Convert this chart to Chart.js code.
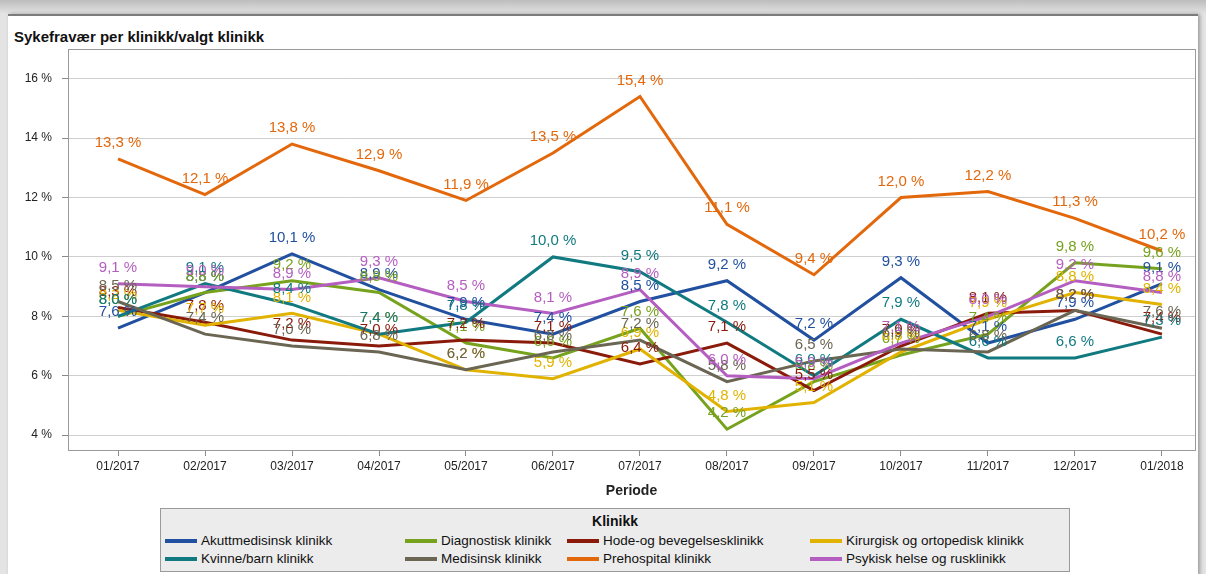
<!DOCTYPE html>
<html>
<head>
<meta charset="utf-8">
<script src="https://cdn.jsdelivr.net/npm/chart.js@4.4.1/dist/chart.umd.min.js"></script>
<style>
  html, body { margin: 0; padding: 0; }
  body {
    width: 1206px; height: 574px; overflow: hidden; position: relative;
    background: linear-gradient(#bdbdbd, #e4e4e4 14px);
    font-family: "Liberation Sans", Arial, sans-serif;
  }
  #panel {
    position: absolute; left: 8px; top: 14px; width: 1190px; height: 560px;
    background: #fff; border-top: 2px solid #7c7c7c;
    box-shadow: 2px 0 4px #999;
  }
  #title {
    position: absolute; left: 14px; top: 28px;
    font-weight: bold; font-size: 15px; color: #111;
  }
  #chart { position: absolute; left: 0; top: 0; }
  #legend {
    position: absolute; left: 160px; top: 508px; width: 908px; height: 62px;
    background: #ececec; border: 1px solid #9a9a9a;
    font-family: "Liberation Sans Narrow", "Arial Narrow", "Liberation Sans", sans-serif;
    font-size: 13.5px; color: #111;
  }
  #legend .head { position: absolute; left: 0; width: 100%; top: 4px; text-align: center; font-weight: bold; font-size: 14px; }
  #legend .item { position: absolute; display: flex; align-items: center; white-space: nowrap; }
  #legend .sw { width: 32px; height: 4px; margin-right: 4px; }
</style>
</head>
<body>
<div id="panel"></div>
<div id="title">Sykefravær per klinikk/valgt klinikk</div>
<canvas id="chart" width="1206" height="574"></canvas>
<div id="legend"><div class="head">Klinikk</div></div>

<script>
// periods on the x axis
const periods = ['01/2017', '02/2017', '03/2017', '04/2017', '05/2017', '06/2017', '07/2017',
                 '08/2017', '09/2017', '10/2017', '11/2017', '12/2017', '01/2018'];
const yTicks = [4, 6, 8, 10, 12, 14, 16];

// sykefravær i prosent per klinikk
const akuttmedisinsk = [7.6, 8.8, 10.1, 8.9, 7.9, 7.4, 8.5, 9.2, 7.2, 9.3, 7.1, 7.9, 9.1];
const diagnostisk    = [8.0, 8.8, 9.2, 8.8, 7.1, 6.6, 7.6, 4.2, 5.8, 6.7, 7.4, 9.8, 9.6];
const hodeBevegelse  = [8.3, 7.8, 7.2, 7.0, 7.2, 7.1, 6.4, 7.1, 5.5, 7.0, 8.1, 8.2, 7.4];
const kirurgisk      = [8.2, 7.7, 8.1, 7.4, 6.2, 5.9, 6.9, 4.8, 5.1, 6.8, 7.9, 8.8, 8.4];
const kvinneBarn     = [8.0, 9.1, 8.4, 7.4, 7.8, 10.0, 9.5, 7.8, 6.0, 7.9, 6.6, 6.6, 7.3];
const medisinsk      = [8.5, 7.4, 7.0, 6.8, 6.2, 6.8, 7.2, 5.8, 6.5, 6.9, 6.8, 8.2, 7.6];
const prehospital    = [13.3, 12.1, 13.8, 12.9, 11.9, 13.5, 15.4, 11.1, 9.4, 12.0, 12.2, 11.3, 10.2];
const psykisk        = [9.1, 9.0, 8.9, 9.3, 8.5, 8.1, 8.9, 6.0, 5.9, 7.1, 8.0, 9.2, 8.8];

const series = [
  { name: 'Akuttmedisinsk klinikk', values: akuttmedisinsk, color: '#2150a0' },
  { name: 'Diagnostisk klinikk', values: diagnostisk, color: '#77a21d' },
  { name: 'Hode-og bevegelsesklinikk', values: hodeBevegelse, color: '#8a1b0b' },
  { name: 'Kirurgisk og ortopedisk klinikk', values: kirurgisk, color: '#e1b300' },
  { name: 'Kvinne/barn klinikk', values: kvinneBarn, color: '#107a80' },
  { name: 'Medisinsk klinikk', values: medisinsk, color: '#6b6653' },
  { name: 'Prehospital klinikk', values: prehospital, color: '#e3680c' },
  { name: 'Psykisk helse og rusklinikk', values: psykisk, color: '#b55ec1' }
];

const fmt = v => v.toFixed(1).replace('.', ',') + ' %';

// value labels above every point, last series on top
const valueLabels = {
  id: 'valueLabels',
  afterDatasetsDraw(chart) {
    const ctx = chart.ctx;
    ctx.save();
    ctx.font = '15px "Liberation Sans", Arial, sans-serif';
    ctx.textAlign = 'center';
    ctx.textBaseline = 'middle';
    chart.data.datasets.forEach((ds, i) => {
      const meta = chart.getDatasetMeta(i);
      ctx.fillStyle = ds.borderColor;
      meta.data.forEach((pt, j) => {
        ctx.fillText(fmt(ds.data[j].y), pt.x, pt.y - 16);
      });
    });
    ctx.restore();
  }
};

// frame round the plot area
const plotFrame = {
  id: 'plotFrame',
  afterDraw(chart) {
    const a = chart.chartArea, ctx = chart.ctx;
    ctx.save();
    ctx.strokeStyle = '#9a9a9a';
    ctx.lineWidth = 1;
    ctx.strokeRect(Math.round(a.left) + 0.5, Math.round(a.top) + 0.5,
                   Math.round(a.right - a.left), Math.round(a.bottom - a.top));
    ctx.restore();
  }
};

const chart = new Chart(document.getElementById('chart'), {
  type: 'line',
  data: {
    datasets: series.map((s, i) => ({
      label: s.name,
      data: s.values.map((v, j) => ({ x: j, y: v })),
      borderColor: s.color,
      backgroundColor: s.color,
      borderWidth: 3,
      pointRadius: 0,
      tension: 0,
      order: series.length - i
    }))
  },
  options: {
    responsive: false,
    devicePixelRatio: 1,
    animation: false,
    layout: { padding: { top: 49, right: 11, bottom: 64, left: 0 } },
    plugins: { legend: { display: false }, tooltip: { enabled: false } },
    scales: {
      x: {
        type: 'linear',
        min: -0.575,
        max: 12.38,
        afterFit: s => { s.height = 60; },
        afterBuildTicks: s => { s.ticks = periods.map((p, i) => ({ value: i })); },
        ticks: {
          callback: v => periods[v],
          color: '#222',
          font: { size: 12, family: '"Liberation Sans", Arial, sans-serif' },
          padding: 3,
          maxRotation: 0,
          autoSkip: false
        },
        grid: { drawOnChartArea: false, drawTicks: true, tickLength: 6, tickColor: '#8a8a8a' },
        border: { color: '#9a9a9a' },
        title: {
          display: true, text: 'Periode', color: '#222',
          font: { size: 14, weight: 'bold', family: '"Liberation Sans", Arial, sans-serif' },
          padding: { top: 0, bottom: 10 }
        }
      },
      y: {
        min: 3.5,
        max: 17,
        afterFit: s => { s.width = 68; },
        afterBuildTicks: s => { s.ticks = yTicks.map(v => ({ value: v })); },
        ticks: {
          callback: v => v + ' %',
          color: '#222',
          font: { size: 12, family: '"Liberation Sans", Arial, sans-serif' },
          padding: 10
        },
        grid: {
          color: '#cfcfcf', borderDash: [5, 4], tickLength: 6,
          tickColor: '#8a8a8a', tickBorderDash: []
        },
        border: { color: '#9a9a9a' }
      }
    }
  },
  plugins: [valueLabels, plotFrame]
});

// legend box under the chart
const legend = document.getElementById('legend');
const colX = [4, 244, 406, 649];
chart.data.datasets.forEach((ds, i) => {
  const item = document.createElement('div');
  item.className = 'item';
  item.style.left = colX[i % 4] + 'px';
  item.style.top = (i < 4 ? 24 : 42) + 'px';
  const sw = document.createElement('span');
  sw.className = 'sw';
  sw.style.background = ds.borderColor;
  item.appendChild(sw);
  item.appendChild(document.createTextNode(ds.label));
  legend.appendChild(item);
});
</script>
</body>
</html>
